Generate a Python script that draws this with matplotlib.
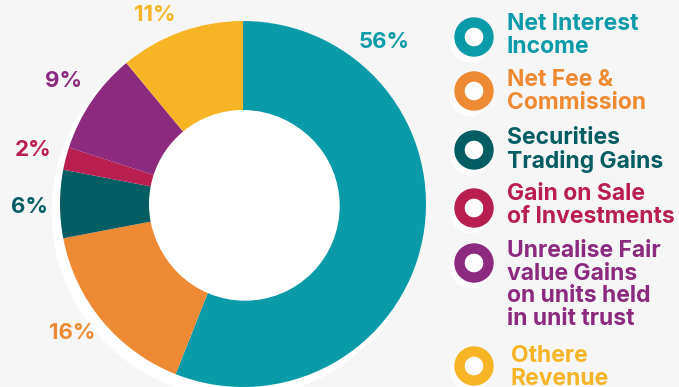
import matplotlib.pyplot as plt
from matplotlib.patches import Circle, Wedge

# Revenue mix (percent), clockwise from 12 o'clock
categories = ['Net Interest\nIncome', 'Net Fee &\nCommission', 'Securities\nTrading Gains',
              'Gain on Sale\nof Investments', 'Unrealise Fair\nvalue Gains\non units held\nin unit trust',
              'Othere\nRevenue']
values = [56, 16, 6, 2, 9, 11]
pct_labels = ['56%', '16%', '6%', '2%', '9%', '11%']
colors = ['#0a9aa8', '#ee8a33', '#035d62', '#b81e4f', '#8b2a7f', '#f7b526']

W, H = 679, 387
fig = plt.figure(figsize=(W / 100, H / 100), dpi=100)
fig.patch.set_facecolor('#f6f6f6')
ax = fig.add_axes([0, 0, 1, 1])
ax.set_facecolor('#f6f6f6')

# donut geometry in pixel coords (y up)
cx, cy = 243, H - 204
R, ring = 183, 89

# soft white shadow behind the donut
ax.add_patch(Circle((cx - 6, cy - 8), R + 2, color='white', zorder=0))

ax.pie(values, colors=colors, startangle=90, counterclock=False,
       center=(cx, cy), radius=R,
       wedgeprops=dict(width=ring, linewidth=0))
ax.add_patch(Circle((cx + 2, cy - 2), R - ring, color='white', zorder=3))

# percentage labels (pixel positions)
pct_pos = [(384, 42), (72, 333), (29, 207), (33, 150), (64, 81), (155, 15)]
for lab, (px, py), c in zip(pct_labels, pct_pos, colors):
    ax.text(px, H - py, lab, color=c, fontsize=16, fontweight='bold',
            ha='center', va='center', family='Inter')

# legend with ring markers
marker_y = [37, 91, 150, 208, 263, 366]
text_top = [13, 69, 127, 183, 240, 345]
for lab, c, my, ty in zip(categories, colors, marker_y, text_top):
    ax.add_patch(Circle((470, H - my - 6), 19, color='white', alpha=0.8, zorder=1))
    ax.add_patch(Wedge((474, H - my), 19, 0, 360, width=9, color=c, zorder=2))
    tx = 511 if lab.startswith('Othere') else 507
    ax.text(tx, H - ty, lab, color=c, fontsize=16.5, fontweight='bold',
            ha='left', va='top', linespacing=1.03, family='Inter')

ax.set_xlim(0, W)
ax.set_ylim(0, H)
ax.set_aspect('equal')
ax.axis('off')

fig.savefig('out.png', dpi=100, facecolor=fig.get_facecolor())
